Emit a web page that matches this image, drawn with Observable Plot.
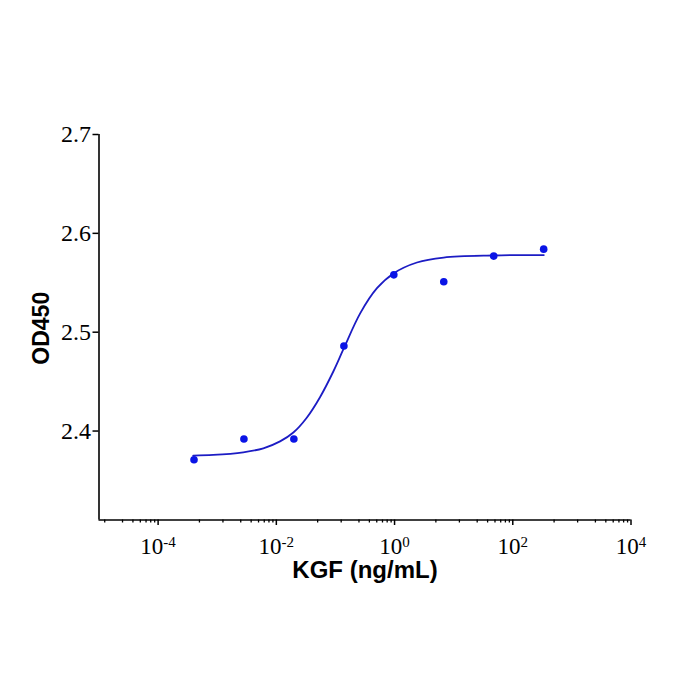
<!DOCTYPE html>
<html>
<head>
<meta charset="utf-8">
<script src="https://cdn.jsdelivr.net/npm/d3@7"></script>
<script src="https://cdn.jsdelivr.net/npm/@observablehq/plot@0.6"></script>
<style>
  html, body { margin: 0; padding: 0; background: #fff; }
  #chart { width: 700px; height: 700px; }
</style>
</head>
<body>
<div id="chart"></div>
<script>
// Measured points (KGF ng/mL vs OD450)
const concentration = [0.000405, 0.00283, 0.0198, 0.139, 0.972, 6.80, 47.6, 333.3];
const od450 = [2.371, 2.392, 2.392, 2.486, 2.558, 2.551, 2.577, 2.584];

// Fitted curve
const curveX = [0.000392, 0.000855, 0.00276, 0.00603, 0.01156, 0.0194, 0.0327, 0.0551, 0.0925, 0.137, 0.262, 0.504, 0.962, 2.39, 6.76, 47.6, 135, 335];
const curveY = [2.3752, 2.3758, 2.3785, 2.3825, 2.3895, 2.3985, 2.4135, 2.4345, 2.4605, 2.483, 2.519, 2.5445, 2.5595, 2.5705, 2.5755, 2.5776, 2.578, 2.578];

// Axes
const xMajorTicks = [1e-4, 1e-2, 1, 100, 1e4];
const xMinorTicks = [1.25e-5, 2.5e-5, 3.75e-5, 5e-5, 6.25e-5, 7.5e-5, 8.75e-5,
  5e-4, 1.25e-3, 2.5e-3, 3.75e-3, 5e-3, 6.25e-3, 7.5e-3, 8.75e-3,
  5e-2, 0.125, 0.25, 0.375, 0.5, 0.625, 0.75, 0.875,
  5, 12.5, 25, 37.5, 50, 62.5, 75, 87.5,
  500, 1250, 2500, 3750, 5000, 6250, 7500, 8750];
const yTicks = [2.4, 2.5, 2.6, 2.7];
const xDomain = [1e-5, 1e4];
const yDomain = [2.31, 2.7];
const xTitle = "KGF (ng/mL)";
const yTitle = "OD450";

const points = concentration.map((c, i) => ({c, v: od450[i]}));
const curve = curveX.map((c, i) => ({c, v: curveY[i]}));

const plot = Plot.plot({
  width: 700,
  height: 700,
  marginLeft: 98.5,
  marginRight: 69.5,
  marginTop: 134,
  marginBottom: 180.5,
  style: {background: "#fff", color: "#000", overflow: "visible"},
  x: {type: "log", domain: xDomain},
  y: {domain: yDomain},
  marks: [
    Plot.axisX({ticks: xMinorTicks, tickSize: 3, tickFormat: () => "", stroke: "#000", strokeWidth: 1.3, label: null}),
    Plot.axisX({ticks: xMajorTicks, tickSize: 5.5, tickPadding: 12, strokeWidth: 1.5,
      tickFormat: d => "10^" + Math.round(Math.log10(d)),
      fontSize: 23, fontFamily: "Liberation Serif", fill: "#000", label: null}),
    Plot.axisY({ticks: yTicks, tickSize: 6, tickPadding: 2, strokeWidth: 1.5,
      tickFormat: d => d.toFixed(1),
      fontSize: 24, fontFamily: "Liberation Serif", fill: "#000", label: null}),
    Plot.ruleX([xDomain[0]], {stroke: "#000", strokeWidth: 1.6}),
    Plot.ruleY([yDomain[0]], {stroke: "#000", strokeWidth: 1.6}),
    Plot.line(curve, {x: "c", y: "v", curve: "catmull-rom", stroke: "#1c1cc4", strokeWidth: 1.8}),
    Plot.dot(points, {x: "c", y: "v", r: 3.8, fill: "#0a14e6", stroke: "none"}),
    Plot.text([xTitle], {frameAnchor: "bottom", dy: 50, text: d => d, fontSize: 24, fontWeight: "bold",
      fontFamily: "Liberation Sans", fill: "#000", lineAnchor: "middle", textAnchor: "middle"}),
    Plot.text([yTitle], {frameAnchor: "left", dx: -57, dy: 1, rotate: -90, text: d => d, fontSize: 23,
      fontWeight: "bold", fontFamily: "Liberation Sans", fill: "#000", textAnchor: "middle"})
  ]
});

// Superscript exponents on the x tick labels
d3.select(plot).selectAll("g[aria-label='x-axis tick label'] text").each(function() {
  const t = this.textContent;
  if (!t.includes("^")) return;
  const [base, exp] = t.split("^");
  const sel = d3.select(this);
  sel.text(base);
  sel.append("tspan").attr("dy", "-0.45em").attr("font-size", "15px").text(exp);
});

document.getElementById("chart").appendChild(plot);
</script>
</body>
</html>
